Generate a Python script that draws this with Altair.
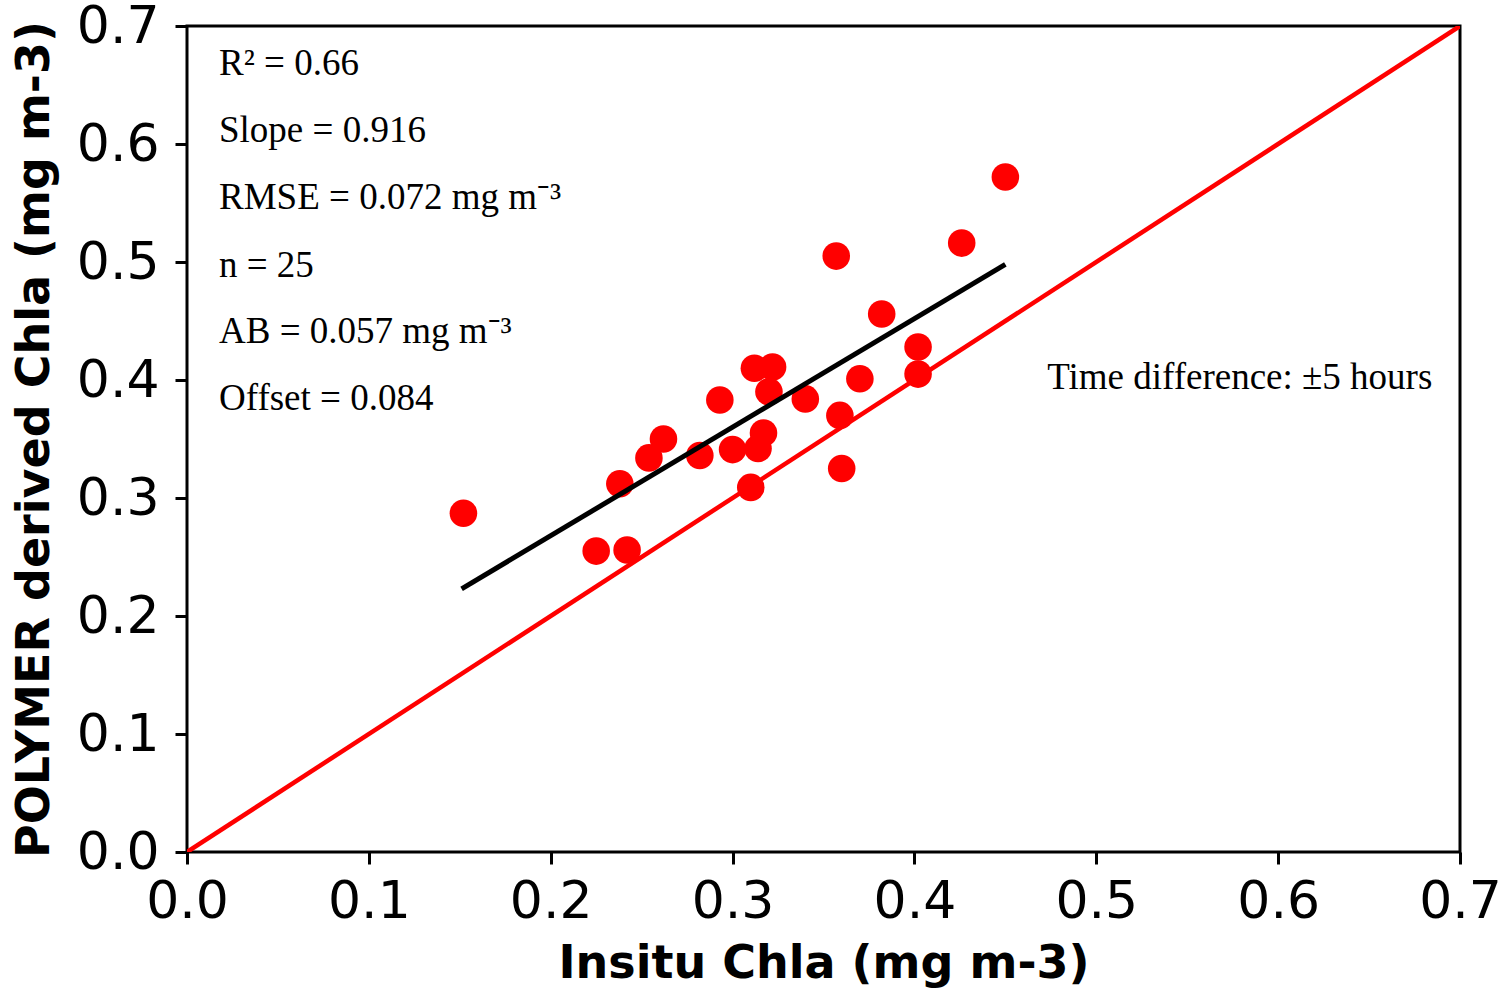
import altair as alt
import pandas as pd

# In-situ vs POLYMER derived Chla (mg m-3)
insitu = [0.152, 0.225, 0.242, 0.238, 0.254, 0.262, 0.282, 0.293, 0.300, 0.310,
          0.312, 0.322, 0.320, 0.314, 0.317, 0.340, 0.357, 0.359, 0.360, 0.370,
          0.382, 0.402, 0.402, 0.426, 0.450]
polymer = [0.287, 0.255, 0.256, 0.312, 0.334, 0.350, 0.336, 0.383, 0.341, 0.309,
           0.410, 0.411, 0.390, 0.342, 0.355, 0.384, 0.505, 0.370, 0.325, 0.401,
           0.456, 0.428, 0.405, 0.516, 0.572]

fit_x = [0.151, 0.450]
fit_y = [0.223, 0.498]

one_x = [0.0, 0.7]
one_y = [0.0, 0.7]

stats_text = ["R\u00b2 = 0.66", "Slope = 0.916", "RMSE = 0.072 mg m\u207b\u00b3",
              "n = 25", "AB = 0.057 mg m\u207b\u00b3", "Offset = 0.084"]
stats_y = [0.668, 0.611, 0.554, 0.497, 0.441, 0.384]
stats_x = [0.0176] * len(stats_text)

note_text = ["Time difference: \u00b15 hours"]
note_x = [0.473]
note_y = [0.402]

ticks = [0.0, 0.1, 0.2, 0.3, 0.4, 0.5, 0.6, 0.7]

pts = pd.DataFrame({"x": insitu, "y": polymer})
fit = pd.DataFrame({"x": fit_x, "y": fit_y})
one = pd.DataFrame({"x": one_x, "y": one_y})
stats = pd.DataFrame({"x": stats_x, "y": stats_y, "t": stats_text})
note = pd.DataFrame({"x": note_x, "y": note_y, "t": note_text})

xs = alt.Scale(domain=[0, 0.7], nice=False, zero=False)
ys = alt.Scale(domain=[0, 0.7], nice=False, zero=False)

xax = alt.Axis(values=ticks, format=".1f", title="Insitu Chla (mg m-3)", grid=False,
               labelPadding=12, titlePadding=14, labelFlush=False)
yax = alt.Axis(values=ticks, format=".1f", title="POLYMER derived Chla (mg m-3)", grid=False,
               labelPadding=16, titlePadding=18, labelFlush=False)

line11 = alt.Chart(one).mark_line(color="#ff0000", strokeWidth=4.5, clip=True).encode(
    x=alt.X("x:Q", scale=xs, axis=xax),
    y=alt.Y("y:Q", scale=ys, axis=yax),
)
points = alt.Chart(pts).mark_circle(color="#ff0000", opacity=1, size=760).encode(
    x=alt.X("x:Q", scale=xs), y=alt.Y("y:Q", scale=ys)
)
fitline = alt.Chart(fit).mark_line(color="black", strokeWidth=5).encode(
    x=alt.X("x:Q", scale=xs), y=alt.Y("y:Q", scale=ys)
)
stat_txt = alt.Chart(stats).mark_text(
    font="Liberation Serif", fontSize=37, align="left", baseline="middle", color="black"
).encode(x=alt.X("x:Q", scale=xs), y=alt.Y("y:Q", scale=ys), text="t:N")
note_txt = alt.Chart(note).mark_text(
    font="Liberation Serif", fontSize=37, align="left", baseline="middle", color="black"
).encode(x=alt.X("x:Q", scale=xs), y=alt.Y("y:Q", scale=ys), text="t:N")

chart = alt.layer(line11, points, fitline, stat_txt, note_txt).properties(
    width=1273, height=826,
    autosize=alt.AutoSizeParams(type="none"),
    padding={"left": 187, "top": 26, "right": 41, "bottom": 137},
    background="white",
).configure_view(
    stroke="black", strokeWidth=3
).configure_axis(
    domain=False,
    tickColor="black", tickSize=12, tickWidth=3,
    labelFont="DejaVu Sans", labelFontSize=52, labelColor="black",
    titleFont="DejaVu Sans", titleFontSize=46, titleFontWeight="bold", titleColor="black",
)

chart.save("out.html", embed_options={"renderer": "svg", "actions": False})
